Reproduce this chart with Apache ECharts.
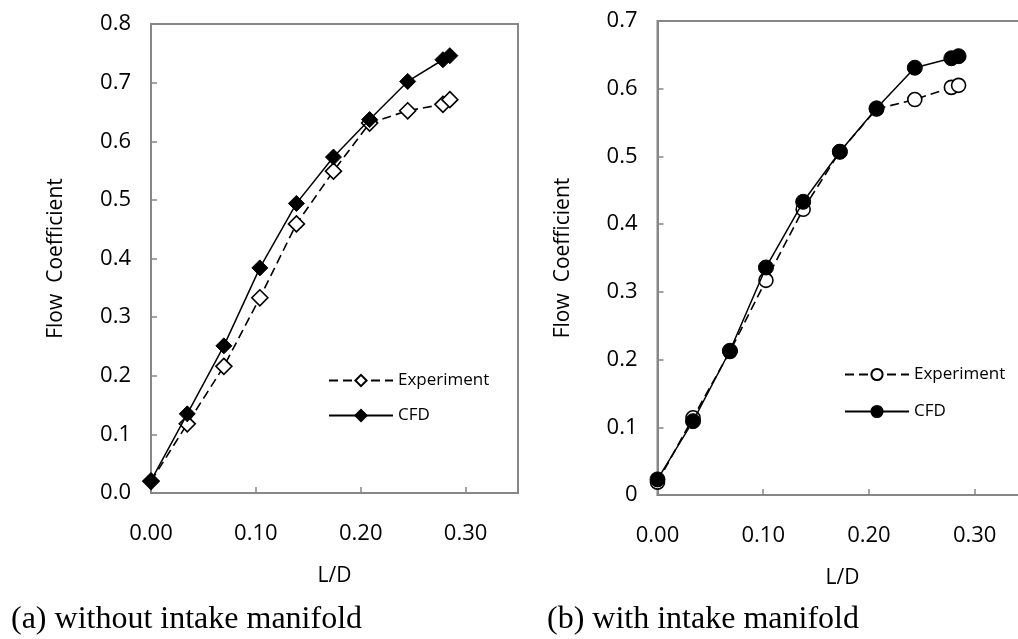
<!DOCTYPE html>
<html>
<head>
<meta charset="utf-8">
<script src="https://cdn.jsdelivr.net/npm/echarts@6/dist/echarts.min.js"></script>
<style>
html,body{margin:0;padding:0;background:#fff;}
#c{width:1018px;height:639px;position:relative;}
.cap{position:absolute;font-family:"Liberation Serif","Times New Roman",serif;font-size:32px;color:#000;white-space:nowrap;}
</style>
</head>
<body>
<div id="c"></div>
<div class="cap" style="left:11px;top:599px;">(a) without intake manifold</div>
<div class="cap" style="left:547px;top:599px;">(b) with intake manifold</div>
<script>
// (a) without intake manifold
const ldA = [0.000, 0.0346, 0.0695, 0.1038, 0.1387, 0.1740, 0.2085, 0.2448, 0.2784, 0.2850];
const expA = [0.020, 0.118, 0.216, 0.333, 0.459, 0.549, 0.631, 0.652, 0.663, 0.671];
const cfdA = [0.021, 0.135, 0.251, 0.384, 0.494, 0.573, 0.637, 0.702, 0.739, 0.746];
// (b) with intake manifold
const ldB = [0.000, 0.0336, 0.0685, 0.1026, 0.1378, 0.1725, 0.2072, 0.2434, 0.2780, 0.2848];
const expB = [0.019, 0.114, 0.212, 0.317, 0.422, 0.507, 0.570, 0.584, 0.602, 0.605];
const cfdB = [0.023, 0.109, 0.213, 0.336, 0.433, 0.507, 0.571, 0.631, 0.645, 0.648];
// tick labels
const xTickLabels = ['0.00', '0.10', '0.20', '0.30'];
const yTickLabelsA = ['0.0','0.1','0.2','0.3','0.4','0.5','0.6','0.7','0.8'];
const yTickLabelsB = ['0','0.1','0.2','0.3','0.4','0.5','0.6','0.7'];
const seriesNames = ['Experiment', 'CFD'];
const yTitle = 'Flow  Coefficient';
const xTitle = 'L/D';

const FONT = '"Open Sans", "Liberation Sans", sans-serif';
const pairs = (xs, ys) => xs.map((x, i) => [x, ys[i]]);

function xAxis(gi) {
  return {
    type: 'value', gridIndex: gi, min: 0, max: 0.35, interval: 0.1,
    name: xTitle, nameLocation: 'middle', nameGap: 73,
    nameTextStyle: {fontFamily: FONT, fontSize: 21, color: '#000'},
    axisLine: {show: true, lineStyle: {color: '#878787', width: 2}},
    axisTick: {show: true, inside: true, length: 6, lineStyle: {color: '#878787', width: 1.5}},
    axisLabel: {
      margin: 30, fontFamily: FONT, fontSize: 22, color: '#000',
      formatter: v => { const i = Math.round(v * 10); return (Math.abs(v - i / 10) < 1e-9 && i < xTickLabels.length) ? xTickLabels[i] : ''; }
    },
    splitLine: {show: false}
  };
}
function yAxis(gi, maxV, labels) {
  return {
    type: 'value', gridIndex: gi, min: 0, max: maxV, interval: 0.1,
    name: yTitle, nameLocation: 'middle', nameGap: 84, nameRotate: 90,
    nameTextStyle: {fontFamily: FONT, fontSize: 21, color: '#000'},
    axisLine: {show: true, lineStyle: {color: '#878787', width: 2}},
    axisTick: {show: true, inside: true, length: 6, lineStyle: {color: '#878787', width: 1.5}},
    axisLabel: {
      margin: 20, fontFamily: FONT, fontSize: 22, color: '#000',
      formatter: v => labels[Math.round(v * 10)]
    },
    splitLine: {show: false}
  };
}
function expSeries(name, gi, data, sym, size) {
  return {
    name: name, type: 'line', xAxisIndex: gi, yAxisIndex: gi, data: data,
    symbol: sym, symbolSize: size, showAllSymbol: true,
    lineStyle: {color: '#000', width: 1.6, type: [9, 5]},
    itemStyle: {color: '#fff', borderColor: '#000', borderWidth: 1.6},
    z: 2, animation: false
  };
}
function cfdSeries(name, gi, data, sym, size) {
  return {
    name: name, type: 'line', xAxisIndex: gi, yAxisIndex: gi, data: data,
    symbol: sym, symbolSize: size, showAllSymbol: true,
    lineStyle: {color: '#000', width: 1.5, type: 'solid'},
    itemStyle: {color: '#000', borderColor: '#000', borderWidth: 1},
    z: 3, animation: false
  };
}
const legendCommon = {
  orient: 'vertical', itemWidth: 64, itemHeight: 14, padding: 0,
  textStyle: {fontFamily: FONT, fontSize: 17, color: '#000'},
  selectedMode: false
};

const chart = echarts.init(document.getElementById('c'), null, {renderer: 'canvas'});
chart.setOption({
  animation: false,
  backgroundColor: '#fff',
  grid: [
    {left: 151, top: 24, width: 367, height: 469, show: true, borderColor: '#878787', borderWidth: 2, containLabel: false, outerBoundsMode: 'none'},
    {left: 657.5, top: 21, width: 370, height: 474, show: true, borderColor: '#878787', borderWidth: 2, containLabel: false, outerBoundsMode: 'none'}
  ],
  xAxis: [xAxis(0), xAxis(1)],
  yAxis: [yAxis(0, 0.8, yTickLabelsA), yAxis(1, 0.7, yTickLabelsB)],
  legend: [
    Object.assign({}, legendCommon, {left: 328, top: 372, itemGap: 18, data: [seriesNames[0], seriesNames[1]]}),
    Object.assign({}, legendCommon, {left: 844, top: 366, itemGap: 20, data: [seriesNames[0] + ' (b)', seriesNames[1] + ' (b)'],
      formatter: n => n.replace(' (b)', '')})
  ],
  series: [
    expSeries(seriesNames[0], 0, pairs(ldA, expA), 'diamond', 16),
    cfdSeries(seriesNames[1], 0, pairs(ldA, cfdA), 'diamond', 16),
    expSeries(seriesNames[0] + ' (b)', 1, pairs(ldB, expB), 'circle', 14),
    cfdSeries(seriesNames[1] + ' (b)', 1, pairs(ldB, cfdB), 'circle', 15)
  ]
});
</script>
</body>
</html>
